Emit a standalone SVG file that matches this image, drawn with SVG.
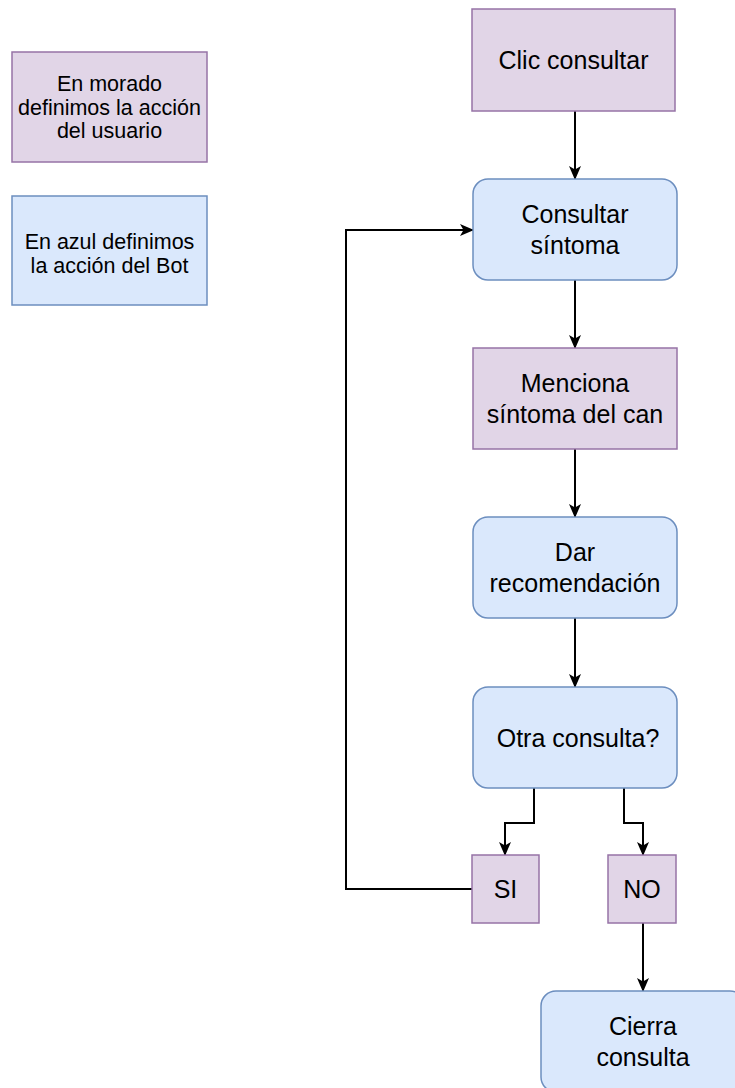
<svg xmlns="http://www.w3.org/2000/svg" width="735" height="1088" viewBox="0 0 735 1088">
  <style>
    .user { fill: #e1d5e7; stroke: #9673a6; stroke-width: 1.5; }
    .bot { fill: #dae8fc; stroke: #6c8ebf; stroke-width: 1.5; }
    .lbl { font-family: "Liberation Sans", Arial, sans-serif; font-size: 25px; fill: #000; text-anchor: middle; }
    .small { font-family: "Liberation Sans", Arial, sans-serif; font-size: 21.5px; fill: #000; text-anchor: middle; }
    .edge { fill: none; stroke: #000; stroke-width: 2; }
  </style>
  <defs>
    <marker id="arrow" viewBox="0 0 14 12" refX="13" refY="6" markerWidth="14" markerHeight="12" orient="auto" markerUnits="userSpaceOnUse">
      <path d="M0,0 L14,6 L0,12 L3.5,6 Z" fill="#000"/>
    </marker>
  </defs>
  <rect width="735" height="1088" fill="#fff"/>

  <!-- legend -->
  <g id="legend-user">
    <rect class="user" x="12" y="52" width="195" height="110"/>
    <text class="small" x="109.5" y="91">En morado</text>
    <text class="small" x="109.5" y="115">definimos la acción</text>
    <text class="small" x="109.5" y="138">del usuario</text>
  </g>
  <g id="legend-bot">
    <rect class="bot" x="12" y="196" width="195" height="109"/>
    <text class="small" x="109.5" y="249">En azul definimos</text>
    <text class="small" x="109.5" y="273">la acción del Bot</text>
  </g>

  <!-- connectors -->
  <g id="connectors">
    <path class="edge" d="M575,111 V179" marker-end="url(#arrow)"/>
    <path class="edge" d="M575,280 V348" marker-end="url(#arrow)"/>
    <path class="edge" d="M575,449 V517" marker-end="url(#arrow)"/>
    <path class="edge" d="M575,618 V687" marker-end="url(#arrow)"/>
    <path class="edge" d="M534,788 V823 H505 V855" marker-end="url(#arrow)"/>
    <path class="edge" d="M624,788 V823 H643 V855" marker-end="url(#arrow)"/>
    <path class="edge" d="M472,889 H346 V230 H473" marker-end="url(#arrow)"/>
    <path class="edge" d="M643,923 V991" marker-end="url(#arrow)"/>
  </g>

  <!-- flow nodes -->
  <g id="clic-consultar">
    <rect class="user" x="472" y="9" width="203" height="102"/>
    <text class="lbl" x="573.5" y="69">Clic consultar</text>
  </g>
  <g id="consultar-sintoma">
    <rect class="bot" x="473" y="179" width="204" height="101" rx="15" ry="15"/>
    <text class="lbl" x="575" y="223">Consultar</text>
    <text class="lbl" x="575" y="254">síntoma</text>
  </g>
  <g id="menciona-sintoma">
    <rect class="user" x="473" y="348" width="204" height="101"/>
    <text class="lbl" x="575" y="392">Menciona</text>
    <text class="lbl" x="575" y="423">síntoma del can</text>
  </g>
  <g id="dar-recomendacion">
    <rect class="bot" x="473" y="517" width="204" height="101" rx="15" ry="15"/>
    <text class="lbl" x="575" y="561">Dar</text>
    <text class="lbl" x="575" y="592">recomendación</text>
  </g>
  <g id="otra-consulta">
    <rect class="bot" x="473" y="687" width="204" height="101" rx="15" ry="15"/>
    <text class="lbl" x="578" y="747">Otra consulta?</text>
  </g>
  <g id="si">
    <rect class="user" x="472" y="855" width="67" height="68"/>
    <text class="lbl" x="505.5" y="898">SI</text>
  </g>
  <g id="no">
    <rect class="user" x="608" y="855" width="68" height="68"/>
    <text class="lbl" x="642" y="898">NO</text>
  </g>
  <g id="cierra-consulta">
    <rect class="bot" x="541" y="991" width="204" height="101" rx="15" ry="15"/>
    <text class="lbl" x="643" y="1035">Cierra</text>
    <text class="lbl" x="643" y="1066">consulta</text>
  </g>
</svg>
